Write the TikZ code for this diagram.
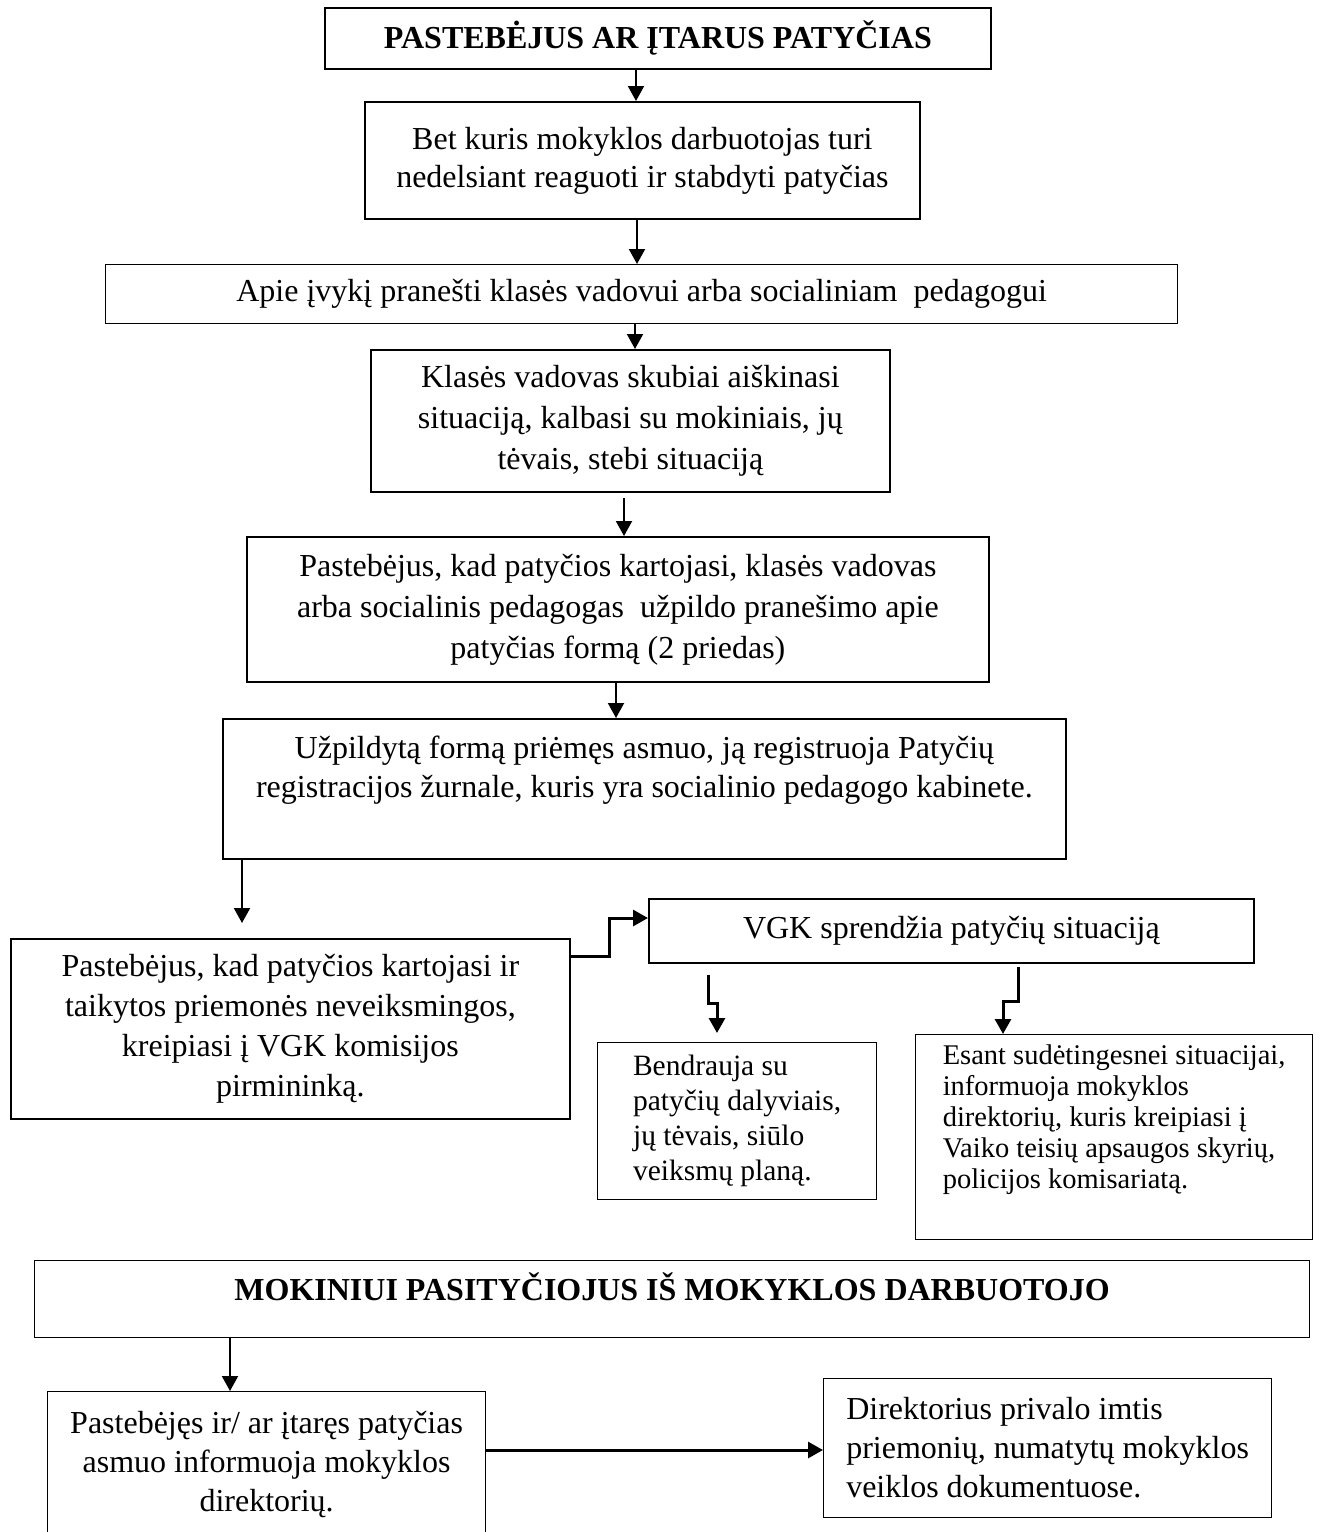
\documentclass[tikz,border=0pt]{standalone}
\usepackage{fontspec}
\setmainfont{Liberation Serif}
\usetikzlibrary{arrows.meta}

\begin{document}
\begin{tikzpicture}[x=1pt,y=-1pt,
  box/.style={draw, line width=1.8pt, inner sep=0pt, align=center, anchor=north west, font=\fontsize{32}{40}\selectfont},
  thinbox/.style={box, line width=1.2pt},
  boxsize/.style 2 args={minimum width=#1pt, minimum height=#2pt},
  arr/.style={line width=2pt, -{Triangle[length=15pt,width=16pt]}},
  thickarr/.style={arr, line width=3pt}]
\useasboundingbox (0,0) rectangle (1320,1532);

\node[box, boxsize={666}{61}] (pastebejus) at (324,7) {\bfseries PASTEBĖJUS AR ĮTARUS PATYČIAS};
\node[box, boxsize={555}{117}, font=\fontsize{32}{38}\selectfont] (reaguoti) at (364,101) {Bet kuris mokyklos darbuotojas turi\\nedelsiant reaguoti ir stabdyti patyčias};
\node[thinbox, boxsize={1072}{59}] (pranesti) at (105,264) {Apie įvykį pranešti klasės vadovui arba socialiniam\ \ pedagogui};
\node[box, boxsize={519}{142}, font=\fontsize{32}{41}\selectfont] (aiskinasi) at (370,349) {Klasės vadovas skubiai aiškinasi\\situaciją, kalbasi su mokiniais, jų\\tėvais, stebi situaciją};
\node[box, boxsize={742}{145}, font=\fontsize{32}{41}\selectfont] (forma) at (246,536) {Pastebėjus, kad patyčios kartojasi, klasės vadovas\\arba socialinis pedagogas\ \ užpildo pranešimo apie\\patyčias formą (2 priedas)};
\node[box, boxsize={843}{140}, font=\fontsize{32}{39}\selectfont, text height=40pt, text depth=22pt] (registruoja) at (222,718) {Užpildytą formą priėmęs asmuo, ją registruoja Patyčių\\registracijos žurnale, kuris yra socialinio pedagogo kabinete.};

\node[box, boxsize={559}{180}] (kreipiasi) at (10,938) {Pastebėjus, kad patyčios kartojasi ir\\taikytos priemonės neveiksmingos,\\kreipiasi į VGK komisijos\\pirmininką.};
\node[box, boxsize={605}{64}] (vgk) at (648,898) {VGK sprendžia patyčių situaciją};
\node[thinbox, boxsize={279}{157}, align=left, font=\fontsize{29.5}{35}\selectfont] (bendrauja) at (597,1042) {Bendrauja su\\patyčių dalyviais,\\jų tėvais, siūlo\\veiksmų planą.};
\node[thinbox, boxsize={397}{205}, align=left, font=\fontsize{28.5}{31}\selectfont, text height=110pt, text depth=7pt] (informuoja) at (915,1034) {Esant sudėtingesnei situacijai,\\informuoja mokyklos\\direktorių, kuris kreipiasi į\\Vaiko teisių apsaugos skyrių,\\policijos komisariatą.};

\node[thinbox, boxsize={1275}{77}, text height=20pt, text depth=17pt] (mokinys) at (34,1260) {\bfseries MOKINIUI PASITYČIOJUS IŠ MOKYKLOS DARBUOTOJO};
\node[thinbox, boxsize={438}{145}, font=\fontsize{32}{39}\selectfont] (asmuo) at (47,1391) {Pastebėjęs ir/ ar įtaręs patyčias\\asmuo informuoja mokyklos\\direktorių.};
\node[thinbox, boxsize={448}{139}, align=left, font=\fontsize{32}{39}\selectfont] (direktorius) at (823,1378) {Direktorius privalo imtis\\priemonių, numatytų mokyklos\\veiklos dokumentuose.};

% draw the arrows
\draw[arr] (pastebejus.south -| 636,0) -- (reaguoti.north -| 636,0);
\draw[arr] (reaguoti.south -| 637,0) -- (pranesti.north -| 637,0);
\draw[arr] (pranesti.south -| 635,0) -- (aiskinasi.north -| 635,0);
\draw[arr, shorten <=5pt] (aiskinasi.south -| 624,0) -- (forma.north -| 624,0);
\draw[arr] (forma.south -| 616,0) -- (registruoja.north -| 616,0);
\draw[arr, shorten >=15pt] (registruoja.south -| 242,0) -- (kreipiasi.north -| 242,0);

% elbow arrows round the VGK box
\draw[thickarr] (kreipiasi.east |- 0,956) -- ++(39,0) |- (vgk.west |- 0,918);
\draw[thickarr, shorten <=11pt, shorten >=9pt] (vgk.south -| 708,0) |- (717,1003) -- (bendrauja.north -| 717,0);
\draw[thickarr, shorten <=3pt] (vgk.south -| 1018,0) |- (1003,1001) -- (informuoja.north -| 1003,0);

\draw[arr] (mokinys.south -| 230,0) -- (asmuo.north -| 230,0);
\draw[thickarr] (asmuo.east |- 0,1450) -- (direktorius.west |- 0,1450);

\end{tikzpicture}
\end{document}
